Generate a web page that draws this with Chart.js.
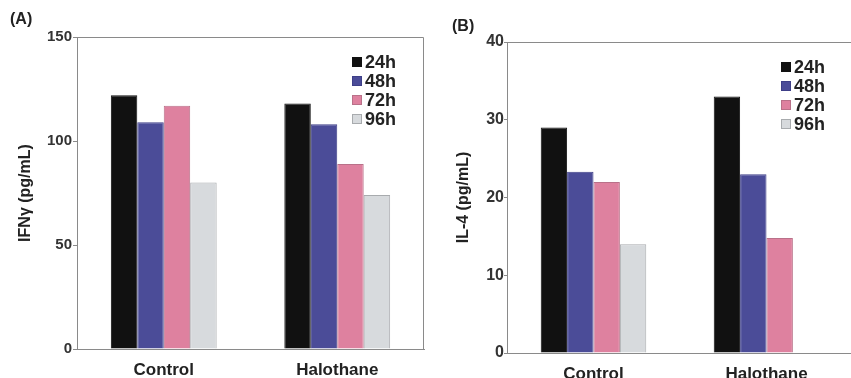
<!DOCTYPE html>
<html>
<head>
<meta charset="utf-8">
<script src="https://cdn.jsdelivr.net/npm/chart.js@4/dist/chart.umd.min.js"></script>
<style>
  html, body { margin: 0; padding: 0; background: #fff; overflow: hidden; }
  body { width: 851px; height: 378px; position: relative; }
  #chartA { position: absolute; left: 0; top: 0; }
  #chartB { position: absolute; left: 430px; top: 0; }
</style>
</head>
<body>
<canvas id="chartA" width="430" height="378"></canvas>
<canvas id="chartB" width="430" height="378"></canvas>
<script>
  // categories and legend labels
  const groups = ['Control', 'Halothane'];
  const times = ['24h', '48h', '72h', '96h'];

  // (A) IFN-gamma, pg/mL
  const ifn24 = [122, 118];
  const ifn48 = [109, 108];
  const ifn72 = [117, 89];
  const ifn96 = [80, 74];
  const ifnTicks = [0, 50, 100, 150];

  // (B) IL-4, pg/mL
  const il24 = [29, 33];
  const il48 = [23.3, 23];
  const il72 = [22, 14.8];
  const il96 = [14, null];
  const ilTicks = [0, 10, 20, 30, 40];

  const fills = ['#111111', '#4b4c98', '#de819f', '#d7dadd'];
  const edges = ['#111111', '#3e3f88', '#b97189', '#a8abae'];
  const fontFamily = '"Liberation Sans", Arial, Helvetica, sans-serif';

  function makeDatasets(series) {
    return series.map((vals, i) => ({
      label: times[i],
      data: vals,
      backgroundColor: fills[i],
      borderColor: edges[i],
      borderWidth: 1,
      categoryPercentage: 0.61,
      barPercentage: 1.0
    }));
  }

  // frame, panel letter and inside legend
  const panelDecor = {
    id: 'panelDecor',
    afterDraw(chart, args, opts) {
      const ctx = chart.ctx;
      const a = chart.chartArea;
      ctx.save();
      ctx.strokeStyle = '#8a8a8a';
      ctx.lineWidth = 1;
      ctx.beginPath();
      ctx.moveTo(a.left, a.top + 0.5);
      ctx.lineTo(a.right - 0.5, a.top + 0.5);
      ctx.lineTo(a.right - 0.5, a.bottom);
      ctx.stroke();

      ctx.fillStyle = '#222';
      ctx.font = 'bold 16px ' + fontFamily;
      ctx.textBaseline = 'middle';
      ctx.textAlign = 'left';
      ctx.fillText(opts.letter, opts.letterX, opts.letterY);

      // legend
      ctx.font = 'bold 18px ' + fontFamily;
      chart.data.datasets.forEach((ds, i) => {
        const y = a.top + 25 + i * 19;
        const x = a.right - 72;
        ctx.fillStyle = ds.backgroundColor;
        ctx.fillRect(x, y - 5, 10, 10);
        ctx.strokeStyle = ds.borderColor;
        ctx.strokeRect(x + 0.5, y - 4.5, 9, 9);
        ctx.fillStyle = '#222';
        ctx.fillText(ds.label, x + 13, y + 1);
      });
      ctx.restore();
    }
  };

  function makeChart(id, series, ticks, yTitle, opt) {
    const ctx = document.getElementById(id).getContext('2d');
    return new Chart(ctx, {
      type: 'bar',
      data: { labels: groups, datasets: makeDatasets(series) },
      plugins: [panelDecor],
      options: {
        responsive: false,
        animation: false,
        layout: { padding: { top: opt.top, right: opt.right, left: 0, bottom: 0 } },
        plugins: {
          legend: { display: false },
          tooltip: { enabled: false },
          panelDecor: { letter: opt.letter, letterX: opt.letterX, letterY: opt.letterY }
        },
        scales: {
          x: {
            grid: { display: false },
            border: { display: true, color: '#8a8a8a', width: 1 },
            ticks: {
              color: '#222',
              padding: 3,
              font: { family: fontFamily, size: 17, weight: 'bold' }
            },
            afterFit: (scale) => { scale.height = opt.xHeight; }
          },
          y: {
            min: ticks[0],
            max: ticks[ticks.length - 1],
            afterBuildTicks: (scale) => { scale.ticks = ticks.map(v => ({ value: v })); },
            grid: {
              drawOnChartArea: false,
              drawTicks: true,
              tickLength: opt.tickLen,
              color: '#8a8a8a'
            },
            border: { display: true, color: '#8a8a8a', width: 1 },
            ticks: {
              color: '#333',
              padding: opt.tickPad,
              font: { family: fontFamily, size: opt.tickSize, weight: 'bold' }
            },
            title: {
              display: true,
              text: yTitle,
              color: '#222',
              padding: { top: opt.titlePad, bottom: 0 },
              font: { family: fontFamily, size: 16, weight: 'bold' }
            },
            afterFit: (scale) => { scale.width = 77; }
          }
        }
      }
    });
  }

  makeChart('chartA', [ifn24, ifn48, ifn72, ifn96], ifnTicks, 'IFNγ (pg/mL)', {
    top: 37, right: 6, xHeight: 29, tickLen: 4, tickPad: 1, tickSize: 15,
    titlePad: 16, letter: '(A)', letterX: 10, letterY: 20
  });

  makeChart('chartB', [il24, il48, il72, il96], ilTicks, 'IL-4 (pg/mL)', {
    top: 42, right: 7, xHeight: 25, tickLen: 3, tickPad: 0, tickSize: 16,
    titlePad: 24, letter: '(B)', letterX: 22, letterY: 27
  });
</script>
</body>
</html>
